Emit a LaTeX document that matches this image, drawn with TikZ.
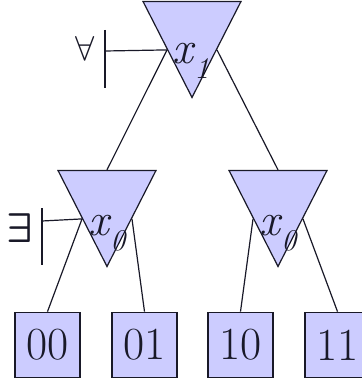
\documentclass[tikz,border=0pt]{standalone}
\usetikzlibrary{shapes.geometric,calc}
\definecolor{lavender}{RGB}{204,204,255}
\definecolor{ink}{RGB}{25,25,40}
\newcommand{\qvar}[1]{x\kern0.6pt\raisebox{-0.32em}{\fontsize{15}{15}\selectfont #1}}
\tikzset{
  qtri/.style={isosceles triangle,isosceles triangle stretches,shape border rotate=270,
    draw=ink,fill=lavender,line width=0.6pt,inner sep=0pt,
    minimum width=49pt,minimum height=48pt,anchor=apex},
  leafbox/.style={draw=ink,fill=lavender,line width=0.9pt,minimum size=32.5pt,inner sep=0pt,
    text=ink,font=\fontsize{23}{23}\selectfont},
  varlbl/.style={text=ink,font=\fontsize{23}{23}\selectfont\itshape,inner sep=0pt},
  quant/.style={text=ink,inner sep=0pt},
  edge/.style={draw=ink,line width=0.6pt},
}
\begin{document}
\begin{tikzpicture}[x=0.5pt,y=-0.5pt]
  \clip (0,0) rectangle (362,385);
  \fill[white] (0,0) rectangle (362,385);
  % quantifier triangles
  \node[qtri] (t1) at (192,99) {};
  \node[qtri] (t2) at (107,268) {};
  \node[qtri] (t3) at (278,268) {};
  \node[varlbl] (v1) at (191,61) {\qvar{1}};
  \node[varlbl] (v2) at (107,233) {\qvar{0}};
  \node[varlbl] (v3) at (278,233) {\qvar{0}};
  % leaves
  \foreach \lbl/\x in {00/47.5,01/144.5,10/240.5,11/337.5}
    \node[leafbox] (b\lbl) at (\x,345) {\lbl};
  % tree edges
  \draw[edge] (t1.right side) -- (t2.lower side);
  \draw[edge] (t1.left side) -- (t3.lower side);
  \draw[edge] (t2.right side) -- (b00.north);
  \draw[edge] (t2.left side) -- (b01.north);
  \draw[edge] (t3.right side) -- (b10.north);
  \draw[edge] (t3.left side) -- (b11.north);
  % quantifier marks
  \node[quant,font=\fontsize{19}{19}\selectfont] (qa) at (85,49) {$\forall$};
  \node[quant,font=\fontsize{20}{20}\selectfont\boldmath] (qe) at (20,228) {$\exists$};
  \coordinate (fa) at (105,51);
  \coordinate (fe) at (42,221);
  \draw[edge] ($(fa)+(0,-21)$) -- ($(fa)+(0,37)$);
  \draw[edge] (fa) -- (t1.right side);
  \draw[edge] ($(fe)+(0,-13)$) -- ($(fe)+(0,44)$);
  \draw[edge] (fe) -- (t2.right side);
\end{tikzpicture}
\end{document}
